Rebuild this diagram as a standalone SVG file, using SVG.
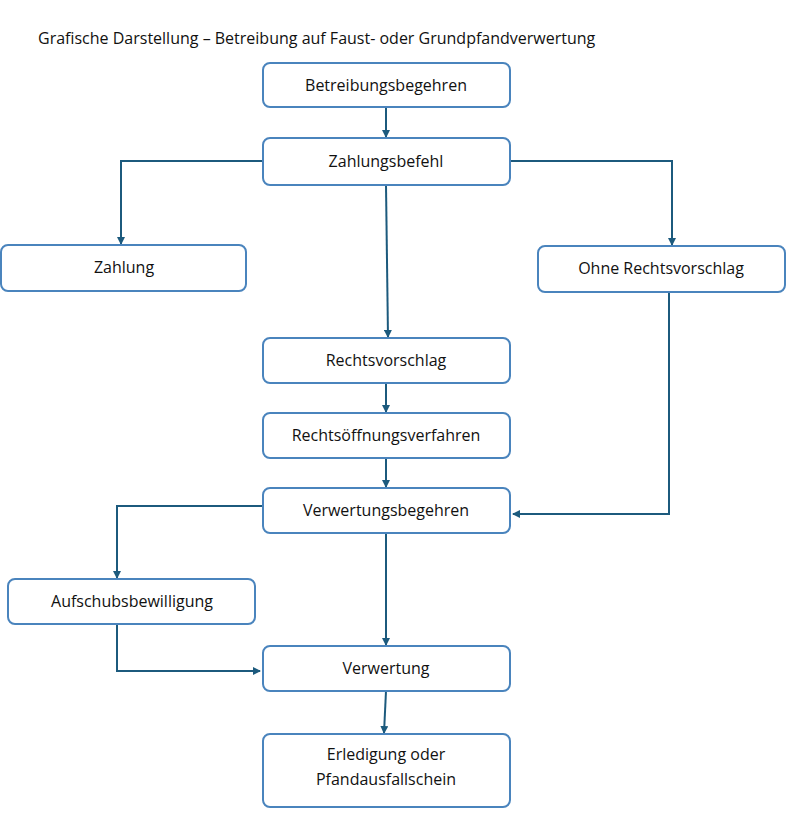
<svg xmlns="http://www.w3.org/2000/svg" width="796" height="816" viewBox="0 0 796 816">
<defs>
<marker id="ah" markerWidth="8" markerHeight="8" refX="7" refY="4" orient="auto" markerUnits="userSpaceOnUse"><path d="M0,0 L8,4 L0,8 z" fill="#1c5a7d"/></marker>
<style>
.b{fill:#fff;stroke:#4a84bd;stroke-width:2}
.t{font-family:"Open Sans","Liberation Sans",Arial,sans-serif;font-size:16px;fill:#111;text-anchor:middle}
.c{fill:none;stroke:#1c5a7d;stroke-width:2;marker-end:url(#ah)}
</style>
</defs>
<rect width="796" height="816" fill="#fff"/>
<text x="38" y="44" style="font-family:'Open Sans','Liberation Sans',Arial,sans-serif;font-size:16px;fill:#111">Grafische Darstellung – Betreibung auf Faust- oder Grundpfandverwertung</text>
<g id="connectors">
<path class="c" d="M386,107 V137"/>
<path class="c" d="M263,161 H121 V244"/>
<path class="c" d="M510,161 H672 V245"/>
<path class="c" d="M386,185 L388,337"/>
<path class="c" d="M386,383 V412"/>
<path class="c" d="M386,458 V487"/>
<path class="c" d="M669,292 V514 H513"/>
<path class="c" d="M263,506 H117 V578"/>
<path class="c" d="M386,533 L386,645"/>
<path class="c" d="M117,624 V671 H260"/>
<path class="c" d="M386,691 L384,733"/>
</g>
<g id="n1"><rect class="b" x="263" y="63" width="247" height="44" rx="7"/><text class="t" x="386" y="91">Betreibungsbegehren</text></g>
<g id="n2"><rect class="b" x="263" y="138" width="247" height="47" rx="7"/><text class="t" x="386" y="167">Zahlungsbefehl</text></g>
<g id="n3"><rect class="b" x="1" y="245" width="245" height="46" rx="7"/><text class="t" x="124" y="273">Zahlung</text></g>
<g id="n4"><rect class="b" x="538" y="246" width="247" height="46" rx="7"/><text class="t" x="661" y="274">Ohne Rechtsvorschlag</text></g>
<g id="n5"><rect class="b" x="263" y="338" width="247" height="45" rx="7"/><text class="t" x="386" y="366">Rechtsvorschlag</text></g>
<g id="n6"><rect class="b" x="263" y="413" width="247" height="45" rx="7"/><text class="t" x="386" y="441">Rechtsöffnungsverfahren</text></g>
<g id="n7"><rect class="b" x="263" y="488" width="247" height="45" rx="7"/><text class="t" x="386" y="516">Verwertungsbegehren</text></g>
<g id="n8"><rect class="b" x="8" y="579" width="247" height="45" rx="7"/><text class="t" x="132" y="607">Aufschubsbewilligung</text></g>
<g id="n9"><rect class="b" x="263" y="646" width="247" height="45" rx="7"/><text class="t" x="386" y="674">Verwertung</text></g>
<g id="n10"><rect class="b" x="263" y="734" width="247" height="73" rx="7"/><text class="t" x="386" y="760">Erledigung oder</text><text class="t" x="386" y="785">Pfandausfallschein</text></g>
</svg>
